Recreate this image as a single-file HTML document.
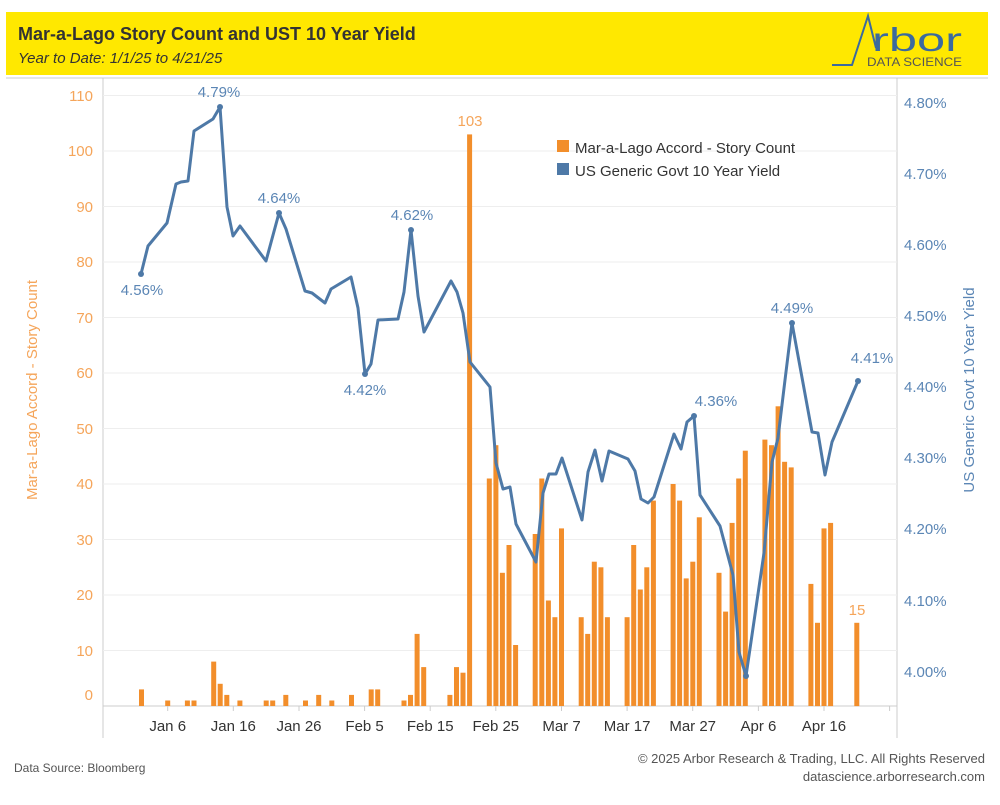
<!DOCTYPE html>
<html><head><meta charset="utf-8"><style>
body{margin:0;background:#fff;width:1000px;height:800px;overflow:hidden}
svg{font-family:"Liberation Sans",sans-serif}
</style></head><body>
<svg width="1000" height="800" viewBox="0 0 1000 800">
<rect x="6" y="12" width="982" height="63" fill="#FFE800"/>
<text x="18" y="40" font-size="18" font-weight="bold" fill="#333">Mar-a-Lago Story Count and UST 10 Year Yield</text>
<text x="18" y="63" font-size="15" font-style="italic" fill="#333">Year to Date: 1/1/25 to 4/21/25</text>
<polyline points="832,65 852,65 868,16 876,48" fill="none" stroke="#3B6A9E" stroke-width="2"/>
<text x="872" y="51" font-size="33" fill="#3B6A9E" textLength="90" lengthAdjust="spacingAndGlyphs">rbor</text>
<text x="867" y="66" font-size="12" fill="#555" textLength="95" lengthAdjust="spacingAndGlyphs">DATA SCIENCE</text>
<line x1="6" y1="78" x2="988" y2="78" stroke="#ccc" stroke-width="1"/>
<line x1="103" y1="78" x2="103" y2="738" stroke="#ccc"/>
<line x1="897" y1="78" x2="897" y2="738" stroke="#ccc"/>
<g stroke="#eeeeee" stroke-width="1">
<line x1="103" y1="95.5" x2="897" y2="95.5"/><line x1="103" y1="151" x2="897" y2="151"/><line x1="103" y1="206.5" x2="897" y2="206.5"/><line x1="103" y1="262" x2="897" y2="262"/><line x1="103" y1="317.5" x2="897" y2="317.5"/><line x1="103" y1="373" x2="897" y2="373"/><line x1="103" y1="428.5" x2="897" y2="428.5"/><line x1="103" y1="484" x2="897" y2="484"/><line x1="103" y1="539.5" x2="897" y2="539.5"/><line x1="103" y1="595" x2="897" y2="595"/><line x1="103" y1="650.5" x2="897" y2="650.5"/>
</g>
<line x1="103" y1="706" x2="897" y2="706" stroke="#ccc"/>
<g fill="#F5A55A" font-size="15" text-anchor="end">
<text x="93" y="101">110</text><text x="93" y="156">100</text><text x="93" y="212">90</text><text x="93" y="267">80</text><text x="93" y="323">70</text><text x="93" y="378">60</text><text x="93" y="434">50</text><text x="93" y="489">40</text><text x="93" y="545">30</text><text x="93" y="600">20</text><text x="93" y="656">10</text><text x="93" y="700">0</text>
</g>
<g fill="#5B86B5" font-size="15">
<text x="904" y="108">4.80%</text><text x="904" y="179">4.70%</text><text x="904" y="250">4.60%</text><text x="904" y="321">4.50%</text><text x="904" y="392">4.40%</text><text x="904" y="463">4.30%</text><text x="904" y="534">4.20%</text><text x="904" y="606">4.10%</text><text x="904" y="677">4.00%</text>
</g>
<g stroke="#ccc"><line x1="167.7" y1="706" x2="167.7" y2="711"/><line x1="233.3" y1="706" x2="233.3" y2="711"/><line x1="299" y1="706" x2="299" y2="711"/><line x1="364.6" y1="706" x2="364.6" y2="711"/><line x1="430.2" y1="706" x2="430.2" y2="711"/><line x1="495.8" y1="706" x2="495.8" y2="711"/><line x1="561.5" y1="706" x2="561.5" y2="711"/><line x1="627.1" y1="706" x2="627.1" y2="711"/><line x1="692.7" y1="706" x2="692.7" y2="711"/><line x1="758.4" y1="706" x2="758.4" y2="711"/><line x1="824" y1="706" x2="824" y2="711"/><line x1="889.6" y1="706" x2="889.6" y2="711"/></g>
<g fill="#333" font-size="15" text-anchor="middle">
<text x="167.7" y="731">Jan 6</text><text x="233.3" y="731">Jan 16</text><text x="299" y="731">Jan 26</text><text x="364.6" y="731">Feb 5</text><text x="430.2" y="731">Feb 15</text><text x="495.8" y="731">Feb 25</text><text x="561.5" y="731">Mar 7</text><text x="627.1" y="731">Mar 17</text><text x="692.7" y="731">Mar 27</text><text x="758.4" y="731">Apr 6</text><text x="824" y="731">Apr 16</text>
</g>
<g id="bars" fill="#F28E2B"></g>
<polyline id="ln" fill="none" stroke="#4E79A7" stroke-width="3" stroke-linejoin="round" points="141,274 148,246 167,223 176,184 181,182 188,181 194,131 213,119 220,107 227,207 233,236 240,226 266,261 279,213 286,229 305,291 312,293 325,303 331,289 351,277 358,308 365,374 371,364 378,320 398,319 404,292 411,230 418,296 424,332 451,281 457,292 463,313 470,362 490,387 496,463 503,489 510,487 516,524 536,562 543,493 549,474 556,474 562,458 582,520 588,472 595,450 602,481 609,451 628,459 635,471 641,499 648,503 654,497 674,434 681,449 687,422 694,416 700,495 720,526 733,575 739,652 746,676 764,553 772,462 778,438 785,380 792,323 812,432 818,433 825,475 832,442 858,381"/>
<g fill="#4E79A7"><circle cx="141" cy="274" r="3"/><circle cx="220" cy="107" r="3"/><circle cx="279" cy="213" r="3"/><circle cx="365" cy="374" r="3"/><circle cx="411" cy="230" r="3"/><circle cx="694" cy="416" r="3"/><circle cx="746" cy="676" r="3"/><circle cx="792" cy="323" r="3"/><circle cx="858" cy="381" r="3"/></g>
<g fill="#5B86B5" font-size="15" text-anchor="middle">
<text x="142" y="295">4.56%</text><text x="219" y="97">4.79%</text><text x="279" y="203">4.64%</text><text x="365" y="395">4.42%</text><text x="412" y="220">4.62%</text><text x="716" y="406">4.36%</text><text x="792" y="313">4.49%</text><text x="872" y="363">4.41%</text>
</g>
<text x="470" y="126" fill="#F5A55A" font-size="15" text-anchor="middle">103</text>
<text x="857" y="615" fill="#F5A55A" font-size="15" text-anchor="middle">15</text>
<rect x="557" y="140" width="12" height="12" fill="#F28E2B"/>
<text x="575" y="153" font-size="15" fill="#333">Mar-a-Lago Accord - Story Count</text>
<rect x="557" y="163" width="12" height="12" fill="#4E79A7"/>
<text x="575" y="176" font-size="15" fill="#333">US Generic Govt 10 Year Yield</text>
<text transform="translate(37,390) rotate(-90)" text-anchor="middle" font-size="15" fill="#F5A55A">Mar-a-Lago Accord - Story Count</text>
<text transform="translate(974,390) rotate(-90)" text-anchor="middle" font-size="15" fill="#5B86B5">US Generic Govt 10 Year Yield</text>
<text x="14" y="772" font-size="12" fill="#555">Data Source: Bloomberg</text>
<text x="985" y="763" font-size="13" fill="#555" text-anchor="end">© 2025 Arbor Research &amp; Trading, LLC. All Rights Reserved</text>
<text x="985" y="781" font-size="13" fill="#555" text-anchor="end">datascience.arborresearch.com</text>
</svg>
<script>
var d=[[1,3],[5,1],[8,1],[9,1],[12,8],[13,4],[14,2],[16,1],[20,1],[21,1],[23,2],[26,1],[28,2],[30,1],[33,2],[36,3],[37,3],[41,1],[42,2],[43,13],[44,7],[48,2],[49,7],[50,6],[51,103],[54,41],[55,47],[56,24],[57,29],[58,11],[61,31],[62,41],[63,19],[64,16],[65,32],[68,16],[69,13],[70,26],[71,25],[72,16],[75,16],[76,29],[77,21],[78,25],[79,37],[82,40],[83,37],[84,23],[85,26],[86,34],[89,24],[90,17],[91,33],[92,41],[93,46],[96,48],[97,47],[98,54],[99,44],[100,43],[103,22],[104,15],[105,32],[106,33],[110,15]];
var g=document.getElementById('bars'),s='';
d.forEach(function(p){var x=134.9+6.563*p[0],h=p[1]*5.55;s+='<rect x="'+(x-2.5).toFixed(1)+'" y="'+(706-h).toFixed(1)+'" width="5" height="'+h.toFixed(1)+'"/>';});
g.innerHTML=s;
</script>
</body></html>
